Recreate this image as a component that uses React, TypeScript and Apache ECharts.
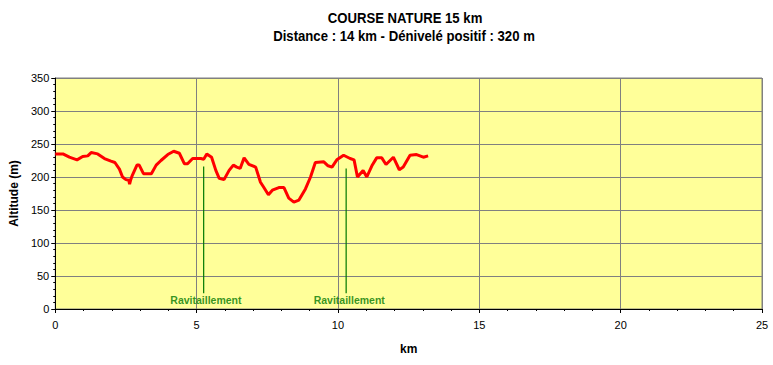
import React, { useEffect, useRef } from "react";
import * as echarts from "echarts";

const distanceKm = [
  0, 0.27, 0.5, 0.77, 0.97, 1.15, 1.27, 1.5, 1.74, 1.97, 2.11, 2.27, 2.38, 2.5, 2.6, 2.63, 2.67, 2.73, 2.89, 2.97,
  3.12, 3.4, 3.57, 3.74, 3.98, 4.19, 4.39, 4.57, 4.68, 4.86, 5.15, 5.25, 5.36, 5.53, 5.68, 5.8, 5.97, 6.15, 6.3,
  6.42, 6.54, 6.68, 6.85, 7.09, 7.26, 7.38, 7.54, 7.68, 7.91, 8.09, 8.26, 8.44, 8.62, 8.85, 9.03, 9.2, 9.5, 9.65,
  9.79, 9.96, 10.2, 10.43, 10.57, 10.69, 10.89, 11.02, 11.2, 11.37, 11.55, 11.7, 11.96, 12.17, 12.31, 12.55, 12.78,
  13.02, 13.19,
];
const altitudeM = [
  235, 235, 230, 226, 231, 232, 237, 235, 228, 224, 222, 212, 200, 196, 195, 189, 196, 203, 218, 218,
  205, 205, 218, 225, 234, 239, 236, 220, 220, 228, 228, 227, 235, 230, 210, 198, 196, 210, 218,
  215, 213, 229, 219, 215, 192, 184, 173, 180, 184, 184, 168, 162, 165, 182, 200, 222, 223, 217,
  215, 226, 233, 228, 226, 200, 210, 200, 217, 229, 229, 219, 230, 211, 215, 233, 234,
  230, 232,
];

const ravitoKm = [5.25, 10.29];
const ravitoTop = [216, 213];
const ravitoBottom = [24, 24];
const ravitoLabel = "Ravitaillement";
const ravitoLabelKm = [5.33, 10.4];
const ravitoLabelAlt = [13.5, 13.5];

const xTicks = { min: 0, max: 25, interval: 5 };
const yTicks = { min: 0, max: 350, interval: 50 };

const titleText = "COURSE NATURE 15 km";
const subtitleText = "Distance : 14 km - Dénivelé positif : 320 m";

export default function App() {
  const ref = useRef<HTMLDivElement>(null);
  useEffect(() => {
    if (!ref.current) return;
    const chart = echarts.init(ref.current, undefined, { renderer: "svg" });
    const font = "'Liberation Sans', Arial, sans-serif";
    const titleFont = "bold 14px 'Liberation Sans Narrow', 'Arial Narrow', 'Liberation Sans', sans-serif";
    const markerSeries: any[] = ravitoKm.map((km, i) => ({
      type: "line",
      data: [
        [km, ravitoBottom[i]],
        [km, ravitoTop[i]],
      ],
      symbol: "none",
      lineStyle: { color: "#007800", width: 1.2 },
      silent: true,
      z: 2,
    }));
    chart.setOption({
      animation: false,
      backgroundColor: "#ffffff",
      graphic: [
        {
          type: "text",
          x: 405,
          y: 18,
          scaleX: 0.94,
          style: {
            text: titleText,
            font: titleFont,
            fill: "#000",
            align: "center",
            verticalAlign: "middle",
          },
        },
        {
          type: "text",
          x: 404,
          y: 36,
          scaleX: 0.94,
          style: {
            text: subtitleText,
            font: titleFont,
            fill: "#000",
            align: "center",
            verticalAlign: "middle",
          },
        },
      ],
      grid: {
        left: 52,
        right: 11,
        top: 78,
        bottom: 56,
        show: true,
        backgroundColor: "#ffff99",
        borderColor: "#808080",
        borderWidth: 1,
      },
      xAxis: {
        type: "value",
        min: xTicks.min,
        max: xTicks.max,
        interval: xTicks.interval,
        name: "km",
        nameLocation: "middle",
        nameGap: 34,
        nameTextStyle: { fontFamily: font, fontWeight: "bold", fontSize: 12, color: "#000" },
        axisLine: { show: true, lineStyle: { color: "#000", width: 1 } },
        axisTick: { show: true, length: 4, lineStyle: { color: "#000" } },
        minorTick: { show: true, splitNumber: 5, length: 2, lineStyle: { color: "#000" } },
        axisLabel: { fontFamily: font, fontSize: 11, color: "#000", margin: 10 },
        splitLine: { show: true, lineStyle: { color: "#808080", width: 1 } },
      },
      yAxis: {
        type: "value",
        min: yTicks.min,
        max: yTicks.max,
        interval: yTicks.interval,
        name: "Altitude (m)",
        nameLocation: "middle",
        nameGap: 33,
        nameTextStyle: { fontFamily: font, fontWeight: "bold", fontSize: 12, color: "#000" },
        axisLine: { show: true, lineStyle: { color: "#000", width: 1 } },
        axisTick: { show: true, length: 4, lineStyle: { color: "#000" } },
        minorTick: { show: true, splitNumber: 5, length: 2, lineStyle: { color: "#000" } },
        axisLabel: { fontFamily: font, fontSize: 11, color: "#000", margin: 6 },
        splitLine: { show: true, lineStyle: { color: "#808080", width: 1 } },
      },
      series: [
        ...markerSeries,
        {
          type: "scatter",
          data: ravitoLabelKm.map((km, i) => [km, ravitoLabelAlt[i]]),
          symbolSize: 0,
          silent: true,
          label: {
            show: true,
            position: "inside",
            formatter: ravitoLabel,
            fontFamily: font,
            fontWeight: "bold",
            fontSize: 10.5,
            color: "#007800",
          },
        },
        {
          type: "line",
          data: distanceKm.map((d, i) => [d, altitudeM[i]]),
          symbol: "none",
          lineStyle: { color: "#ff0000", width: 3 },
          silent: true,
          z: 3,
        },
      ],
    });
    return () => chart.dispose();
  }, []);
  return <div ref={ref} style={{ width: 773, height: 365, position: "absolute", left: 0, top: 0 }} />;
}
